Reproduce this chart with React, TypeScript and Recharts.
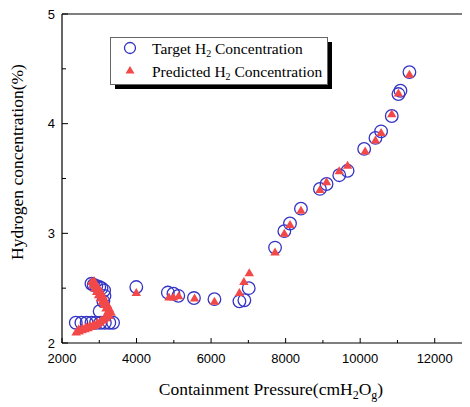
import { ScatterChart, Scatter, XAxis, YAxis, Legend, ReferenceLine } from 'recharts';

// Target H2 concentration (circles)
const targetPressure = [
  2370, 2520, 2660, 2790, 2910, 3030, 3150, 3270, 3370,
  2790, 2850, 2920, 3000, 3060, 3130, 3140, 3110, 3010,
  3993, 4840, 4990, 5120, 5540, 6090, 6760, 6893, 7010,
  7716, 7965, 8117, 8411, 8920, 9098, 9439, 9662,
  10107, 10410, 10561, 10847, 11026, 11080, 11321,
];
const targetH2 = [
  2.185, 2.185, 2.185, 2.185, 2.185, 2.185, 2.185, 2.185, 2.185,
  2.54, 2.53, 2.52, 2.51, 2.5, 2.48, 2.43, 2.38, 2.29,
  2.51, 2.46, 2.45, 2.43, 2.41, 2.4, 2.38, 2.39, 2.5,
  2.87, 3.02, 3.09, 3.225, 3.405, 3.45, 3.53, 3.57,
  3.77, 3.87, 3.93, 4.07, 4.27, 4.3, 4.47,
];

// Predicted H2 concentration (triangles)
const predictedPressure = [
  2380, 2460, 2540, 2620, 2700, 2780, 2860, 2940, 3020, 3100, 3180, 3260,
  2450, 2550, 2650, 2750, 2850, 2950, 3050, 3150, 3250, 3320,
  3230, 3180, 3130, 3080, 3030, 2980, 2930, 2880, 2840, 2800,
  3280, 3220, 3160, 3100, 3040, 2980, 2920, 2860,
  3993, 4870, 4990, 5130, 5557, 6090, 6760, 6880, 7025,
  7716, 7965, 8117, 8411, 8920, 9098, 9439, 9662,
  10133, 10410, 10561, 10847, 11026, 11321,
];
const predictedH2 = [
  2.1, 2.11, 2.12, 2.13, 2.14, 2.15, 2.16, 2.17, 2.19, 2.21, 2.23, 2.25,
  2.13, 2.14, 2.15, 2.16, 2.17, 2.19, 2.21, 2.23, 2.26, 2.28,
  2.29, 2.32, 2.35, 2.38, 2.41, 2.44, 2.47, 2.5, 2.53, 2.56,
  2.31, 2.35, 2.39, 2.43, 2.47, 2.5, 2.53, 2.57,
  2.46, 2.42, 2.42, 2.43, 2.41, 2.38, 2.46, 2.56, 2.64,
  2.83, 3.0, 3.08, 3.21, 3.4, 3.47, 3.57, 3.62,
  3.75, 3.85, 3.92, 4.09, 4.28, 4.45,
];

const xTicks = [2000, 3000, 4000, 5000, 6000, 7000, 8000, 9000, 10000, 11000, 12000, 13000];
const yTicks = [2, 2.5, 3, 3.5, 4, 4.5, 5];

const BLUE = '#3434c4';
const RED = '#f24848';
const SANS = '"Liberation Sans", Arial, sans-serif';
const SERIF = '"Liberation Serif", "Times New Roman", serif';

const targetData = targetPressure.map((x, i) => ({ x, y: targetH2[i] }));
const predictedData = predictedPressure.map((x, i) => ({ x, y: predictedH2[i] }));

function CircleMark({ cx, cy }: any) {
  return <circle cx={cx} cy={cy} r={6.3} fill="none" stroke={BLUE} strokeWidth={1.3} />;
}

function TriangleMark({ cx, cy }: any) {
  return <polygon points={`${cx},${cy - 4.5} ${cx - 4.7},${cy + 3.5} ${cx + 4.7},${cy + 3.5}`} fill={RED} />;
}

function XTick({ x, y, payload }: any) {
  const ay = y - 9;
  const major = payload.value % 2000 === 0;
  return (
    <g>
      <line x1={x} x2={x} y1={ay} y2={ay - (major ? 5 : 3)} stroke="#000" />
      {major && (
        <text x={x} y={y + 11} textAnchor="middle" style={{ fontFamily: SANS, fontSize: 13 }} fill="#000">
          {payload.value}
        </text>
      )}
    </g>
  );
}

function YTick({ x, y, payload }: any) {
  const ax = x + 7;
  const major = Number.isInteger(payload.value);
  return (
    <g>
      <line x1={ax} x2={ax + (major ? 6 : 4)} y1={y} y2={y} stroke="#000" />
      {major && (
        <text x={x} y={y + 4.5} textAnchor="end" style={{ fontFamily: SANS, fontSize: 13 }} fill="#000">
          {payload.value}
        </text>
      )}
    </g>
  );
}

function XTitle() {
  return (
    <text x={263} y={387} textAnchor="middle" style={{ fontFamily: SERIF, fontSize: 17.5 }} fill="#000">
      Containment Pressure(cmH
      <tspan style={{ fontSize: 12 }} dy={4}>2</tspan>
      <tspan dy={-4}>O</tspan>
      <tspan style={{ fontSize: 12 }} dy={4}>g</tspan>
      <tspan dy={-4}>)</tspan>
    </text>
  );
}

function YTitle() {
  return (
    <text
      x={14.5}
      y={154}
      transform="rotate(-90, 14.5, 154)"
      textAnchor="middle"
      style={{ fontFamily: SERIF, fontSize: 17.5 }}
      fill="#000"
    >
      Hydrogen concentration(%)
    </text>
  );
}

function LegendBox() {
  return (
    <svg width={224} height={54} style={{ display: 'block' }}>
      <rect x={5} y={5} width={217} height={47} fill="#000" />
      <rect x={0.5} y={0.5} width={217} height={47} fill="#fff" stroke="#666" />
      <circle cx={20} cy={11} r={5.5} fill="none" stroke={BLUE} strokeWidth={1.3} />
      <polygon points="20,29 15.5,36.5 24.5,36.5" fill={RED} />
      <text x={42} y={17} style={{ fontFamily: SERIF, fontSize: 15.5 }} fill="#000">
        Target H<tspan style={{ fontSize: 10 }} dy={3}>2</tspan>
        <tspan dy={-3}>{'\u00a0'}Concentration</tspan>
      </text>
      <text x={42} y={40} style={{ fontFamily: SERIF, fontSize: 15.5 }} fill="#000">
        Predicted H<tspan style={{ fontSize: 10 }} dy={3}>2</tspan>
        <tspan dy={-3}>{'\u00a0'}Concentration</tspan>
      </text>
    </svg>
  );
}

export default function App() {
  return (
    <div style={{ position: 'relative', width: 462, height: 399, overflow: 'hidden' }}>
      <ScatterChart width={470} height={399} margin={{ top: 6, right: 6, bottom: 0, left: 0 }}>
        <XAxis
          type="number"
          dataKey="x"
          domain={[2000, 13000]}
          ticks={xTicks}
          interval={0}
          tickSize={0}
          tickMargin={9}
          tick={<XTick />}
          axisLine={{ stroke: '#000', strokeWidth: 1.2 }}
          height={64}
          label={<XTitle />}
        />
        <YAxis
          type="number"
          dataKey="y"
          domain={[2, 5]}
          ticks={yTicks}
          interval={0}
          tickSize={0}
          tickMargin={7}
          tick={<YTick />}
          axisLine={{ stroke: '#000', strokeWidth: 1.2 }}
          width={54}
          label={<YTitle />}
        />
        <ReferenceLine y={5} stroke="#000" strokeWidth={1.2} />
        <ReferenceLine x={13000} stroke="#000" strokeWidth={1.2} />
        <Legend
          layout="vertical"
          align="center"
          verticalAlign="middle"
          content={<LegendBox />}
          wrapperStyle={{ left: 102, top: 29, width: 224 }}
        />
        <Scatter name="Target" data={targetData} shape={<CircleMark />} isAnimationActive={false} />
        <Scatter name="Predicted" data={predictedData} shape={<TriangleMark />} isAnimationActive={false} />
      </ScatterChart>
    </div>
  );
}
